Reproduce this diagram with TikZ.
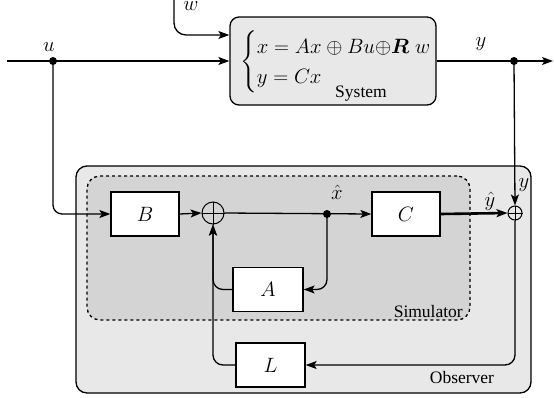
\documentclass[tikz,border=0pt]{standalone}
\usepackage{amsmath}
\usepackage{bm}
\usepackage[no-math]{fontspec}
\setmainfont{Liberation Serif}
\usetikzlibrary{arrows.meta,calc}
\definecolor{obsfill}{gray}{0.91}
\definecolor{simfill}{gray}{0.83}
\definecolor{sysfill}{gray}{0.91}
\tikzset{
  blk/.style={draw, line width=1.3pt, fill=white, minimum width=68pt, minimum height=44pt, inner sep=0pt, font=\mfont},
  sumc/.style={draw, circle, line width=1pt, inner sep=0pt},
  arr/.style={-{Stealth[length=11pt,width=8pt,inset=2.5pt]}},
  ln/.style={line width=1.3pt},
  dotc/.style={circle, fill=black, inner sep=0pt, minimum size=8pt},
  lbl/.style={inner sep=0pt},
  mlbl/.style={inner sep=0pt, font=\mfont}
}
\newcommand{\mfont}{\fontsize{21}{25}\selectfont}
\begin{document}
\begin{tikzpicture}[x=1pt,y=-1pt, font=\fontsize{17.5}{21}\selectfont]
\useasboundingbox (0,0) rectangle (554,397);
% containers
\node[draw, line width=1.3pt, fill=obsfill, rounded corners=11pt, minimum width=455pt, minimum height=227pt, inner sep=0pt] (obs) at (303.5,279.5) {};
\node[draw, dashed, line width=1.3pt, fill=simfill, rounded corners=13pt, minimum width=383pt, minimum height=144pt, inner sep=0pt] (sim) at (278.5,248) {};
\node[lbl, anchor=south east] (simlbl) at (463,318) {Simulator};
\node[lbl] (obslbl) at (462,378) {Observer};
% system
\node[draw, line width=1.3pt, fill=sysfill, rounded corners=9pt, minimum width=206pt, minimum height=88pt, inner sep=0pt] (sys) at (333,61) {};
\node[mlbl, anchor=west] (eq) at (240,62) {\def\arraystretch{0.92}$\begin{cases} x=Ax\oplus Bu{\oplus}\bm{R}\;w\\ y=Cx\end{cases}$};
\node[lbl] (syslbl) at (361,94) {System};
% blocks
\node[blk] (B) at (145,214) {$B$};
\node[blk] (C) at (406,214) {$C$};
\node[blk, minimum width=70pt] (A) at (268,289.5) {$A$};
\node[blk, minimum width=69pt] (L) at (270.5,365) {$L$};
\node[sumc, minimum size=22pt] (s1) at (213,213) {};
\draw[line width=1pt] (s1.north) -- (s1.south) (s1.west) -- (s1.east);
\node[sumc, minimum size=14pt] (s2) at (515,213) {};
\draw[line width=0.8pt] (s2.north) -- (s2.south) (s2.west) -- (s2.east);
% coordinates
\coordinate (uin) at (7,61);
\node[dotc] (ud) at (53,61) {};
\node[dotc] (yd) at (514,61) {};
\node[dotc] (xd) at (327,214) {};
\coordinate (yout) at (553,61);
\coordinate (win) at (174,0);
% labels
\node[mlbl] (ul) at (49,47) {$u$};
\node[mlbl] (yl) at (481,44) {$y$};
\node[mlbl] (wl) at (191,6) {$w$};
\node[mlbl] (xl) at (337,192) {$\hat{x}$};
\node[mlbl] (yhl) at (490,201) {$\hat{y}$};
\node[mlbl] (y2l) at (524,185) {$y$};
% connectors
\draw[ln, arr] (uin) -- (sys.west |- uin);
\draw[ln, arr, rounded corners=12pt] (win) -- (174,35) -- (sys.west |- 0,35);
\draw[ln, arr, rounded corners=9pt] (ud.center) |- (B.west);
\draw[ln, arr] (B.east) -- (s1.west);
\draw[ln, arr] (s1.east) -- (C.west);
\draw[line width=2.6pt, -{Stealth[length=11pt,width=8pt,inset=2.5pt]}] (C.east) -- (s2.west);
\draw[ln, arr] (sys.east |- yout) -- (yout);
\draw[ln, arr] (yd.center) -- (s2.north);
\draw[ln, arr, rounded corners=10pt] (xd.center) |- (A.east);
\draw[ln, arr, rounded corners=10pt] (A.west) -| (s1.south);
\draw[ln, arr, rounded corners=10pt] (L.west) -| (s1.south);
\draw[ln, arr, rounded corners=10pt] (s2.south) |- (L.east);
\end{tikzpicture}
\end{document}
